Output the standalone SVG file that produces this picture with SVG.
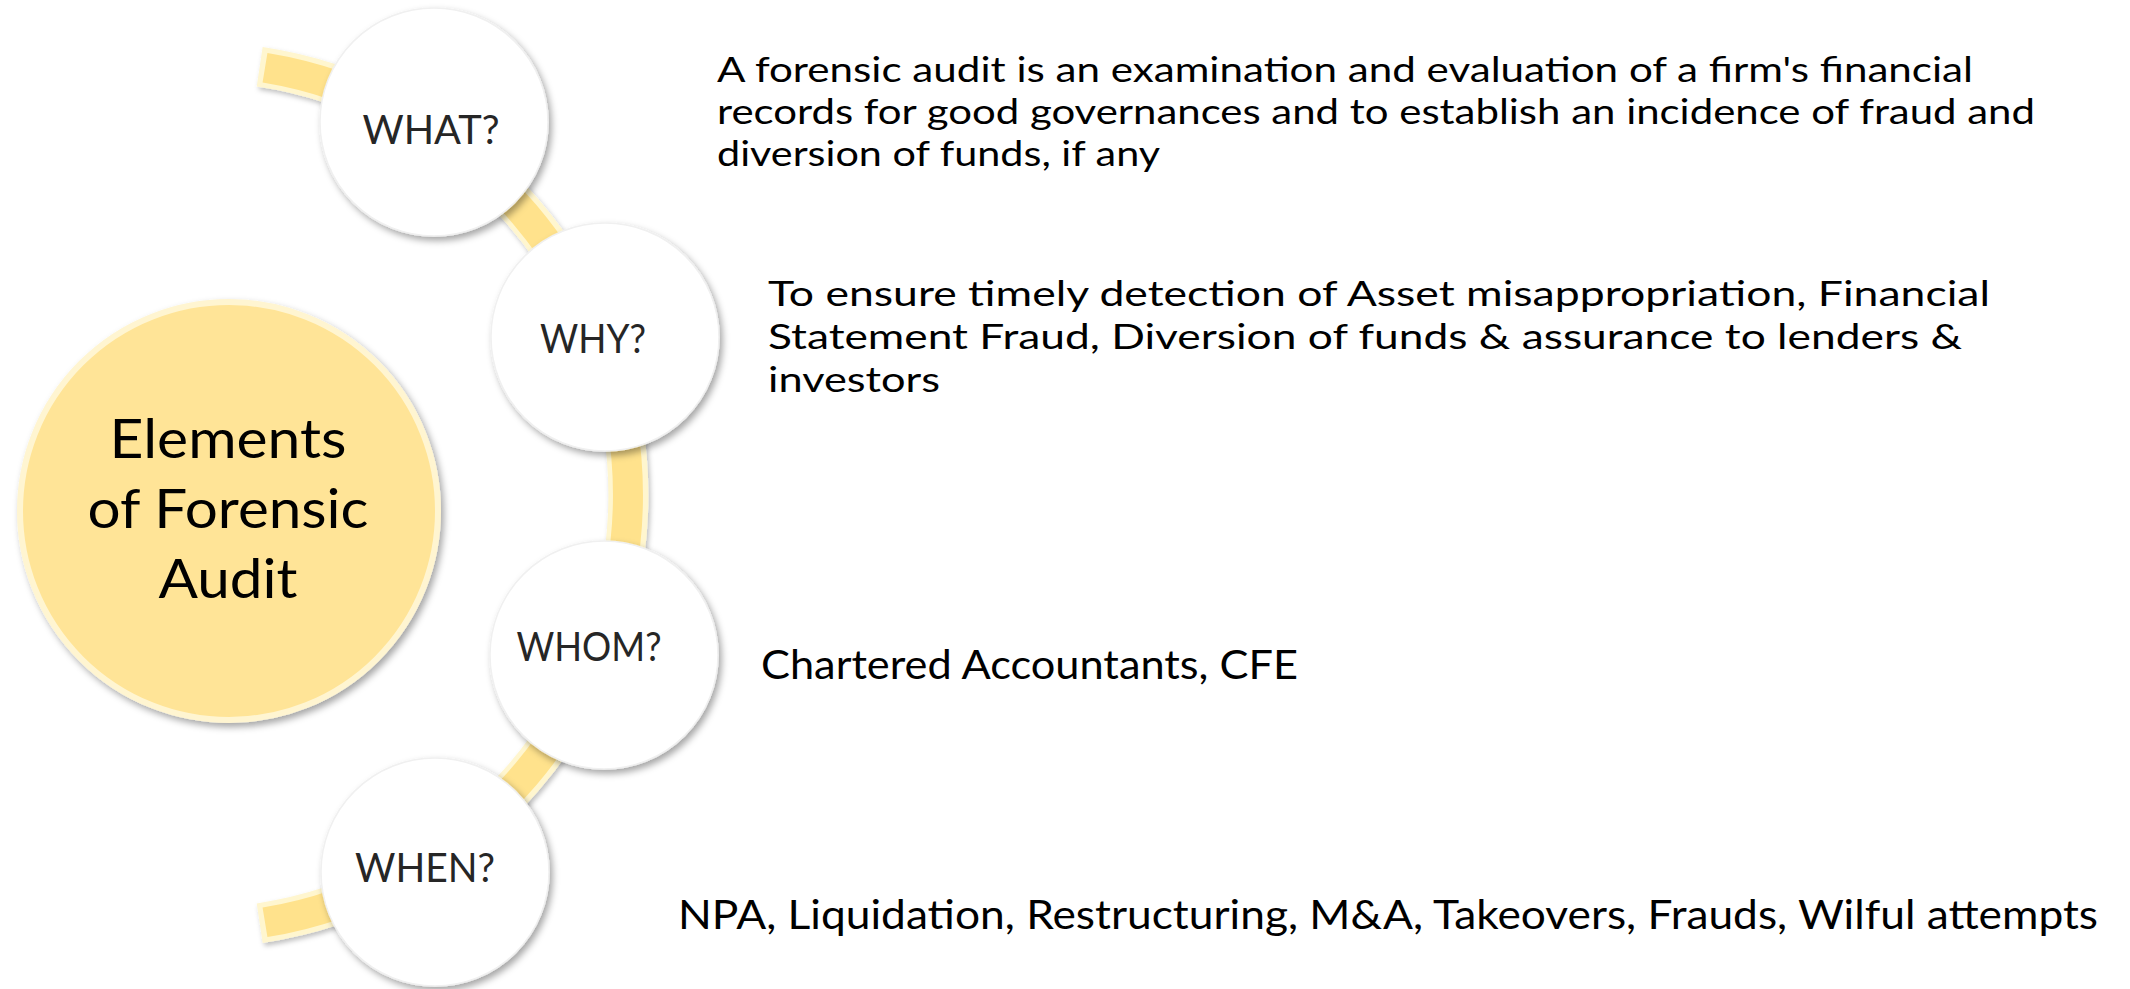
<svg xmlns="http://www.w3.org/2000/svg" width="2130" height="989" viewBox="0 0 2130 989">
  <style>
    .lbl { font-family: Lato, "Open Sans", sans-serif; font-size: 41px; fill: #262626; text-anchor: middle; }
    .hub { font-family: Lato, "Open Sans", sans-serif; font-size: 55px; fill: #000; text-anchor: middle; }
    .p1 { font-family: Lato, "Open Sans", sans-serif; font-size: 35px; fill: #000; }
    .p2 { font-family: Lato, "Open Sans", sans-serif; font-size: 35.5px; fill: #000; }
    .p3 { font-family: Lato, "Open Sans", sans-serif; font-size: 40px; fill: #000; }
    .bubble { fill: #ffffff; stroke: #f0f0f0; stroke-width: 1.5; filter: url(#shadow); }
  </style>
  <defs>
    <filter id="shadow" x="-20%" y="-20%" width="140%" height="140%">
      <feDropShadow dx="3" dy="4" stdDeviation="3.5" flood-color="#000" flood-opacity="0.35"/>
    </filter>
    <filter id="bandShadow" x="-20%" y="-20%" width="140%" height="140%">
      <feDropShadow dx="2" dy="3" stdDeviation="2.5" flood-color="#000" flood-opacity="0.25"/>
    </filter>
  </defs>
  <rect width="2130" height="989" fill="#ffffff"/>

  <g id="connectors">
    <path d="M259.7,66.8 A433,433 0 0 1 259.7,923.2" fill="none" stroke="#FFF6CF" stroke-width="40" filter="url(#bandShadow)"/>
    <path d="M265,67.7 A433,433 0 0 1 265,922.3" fill="none" stroke="#FFE28C" stroke-width="30"/>
  </g>

  <g id="hub">
    <circle cx="229" cy="511" r="209" fill="#FFE497" stroke="#FFF5D1" stroke-width="6" filter="url(#shadow)"/>
    <text class="hub" x="228" y="458" textLength="237" lengthAdjust="spacingAndGlyphs">Elements</text>
    <text class="hub" x="228" y="528" textLength="281" lengthAdjust="spacingAndGlyphs">of Forensic</text>
    <text class="hub" x="228" y="598" textLength="139" lengthAdjust="spacingAndGlyphs">Audit</text>
  </g>

  <g id="what">
    <circle class="bubble" cx="434" cy="122" r="114"/>
    <text class="lbl" x="431" y="144" textLength="137" lengthAdjust="spacingAndGlyphs">WHAT?</text>
  </g>
  <g id="why">
    <circle class="bubble" cx="605" cy="337" r="114"/>
    <text class="lbl" x="593" y="353" textLength="106" lengthAdjust="spacingAndGlyphs">WHY?</text>
  </g>
  <g id="whom">
    <circle class="bubble" cx="604" cy="655" r="114"/>
    <text class="lbl" x="589" y="661" textLength="145" lengthAdjust="spacingAndGlyphs">WHOM?</text>
  </g>
  <g id="when">
    <circle class="bubble" cx="435" cy="872" r="114"/>
    <text class="lbl" x="425" y="882" textLength="140" lengthAdjust="spacingAndGlyphs">WHEN?</text>
  </g>

  <g id="what-desc">
    <text class="p1" x="717" y="82" textLength="1256" lengthAdjust="spacingAndGlyphs">A forensic audit is an examination and evaluation of a firm's financial</text>
    <text class="p1" x="717" y="124" textLength="1318" lengthAdjust="spacingAndGlyphs">records for good governances and to establish an incidence of fraud and</text>
    <text class="p1" x="717" y="166" textLength="443" lengthAdjust="spacingAndGlyphs">diversion of funds, if any</text>
  </g>
  <g id="why-desc">
    <text class="p2" x="768" y="306" textLength="1222" lengthAdjust="spacingAndGlyphs">To ensure timely detection of Asset misappropriation, Financial</text>
    <text class="p2" x="768" y="349" textLength="1194" lengthAdjust="spacingAndGlyphs">Statement Fraud, Diversion of funds &amp; assurance to lenders &amp;</text>
    <text class="p2" x="768" y="392" textLength="172" lengthAdjust="spacingAndGlyphs">investors</text>
  </g>
  <g id="whom-desc">
    <text class="p3" x="761" y="679" textLength="537" lengthAdjust="spacingAndGlyphs">Chartered Accountants, CFE</text>
  </g>
  <g id="when-desc">
    <text class="p3" x="678" y="929" textLength="1420" lengthAdjust="spacingAndGlyphs">NPA, Liquidation, Restructuring, M&amp;A, Takeovers, Frauds, Wilful attempts</text>
  </g>
</svg>
